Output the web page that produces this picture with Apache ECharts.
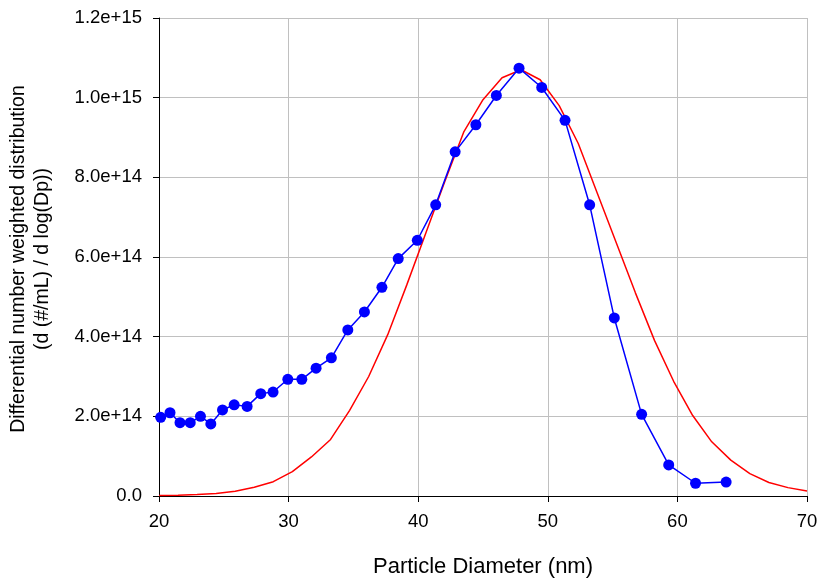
<!DOCTYPE html>
<html>
<head>
<meta charset="utf-8">
<script src="https://cdn.jsdelivr.net/npm/echarts@6/dist/echarts.min.js"></script>
<style>html,body{margin:0;padding:0;background:#fff}#c{width:819px;height:579px}</style>
</head>
<body>
<div id="c"></div>
<script>
// Measured data (blue markers)
const measuredX = [20.13, 20.85, 21.62, 22.41, 23.2, 24.0, 24.9, 25.8, 26.8, 27.85, 28.8, 29.94, 31.02, 32.12, 33.3, 34.57, 35.85, 37.2, 38.46, 39.93, 41.35, 42.85, 44.45, 46.03, 47.78, 49.53, 51.33, 53.23, 55.13, 57.24, 59.33, 61.4, 63.76];
const measuredY = [1.975e14, 2.09e14, 1.84e14, 1.84e14, 2.0e14, 1.81e14, 2.16e14, 2.29e14, 2.25e14, 2.57e14, 2.61e14, 2.93e14, 2.93e14, 3.21e14, 3.47e14, 4.17e14, 4.62e14, 5.24e14, 5.96e14, 6.42e14, 7.31e14, 8.64e14, 9.32e14, 1.0055e15, 1.074e15, 1.0256e15, 9.43e14, 7.31e14, 4.47e14, 2.05e14, 7.8e13, 3.2e13, 3.5e13];
// Fitted curve (red line)
const fitX = [20.0, 21.47, 22.94, 24.41, 25.88, 27.35, 28.82, 30.29, 31.76, 33.24, 34.71, 36.18, 37.65, 39.12, 40.59, 42.06, 43.53, 45.0, 46.47, 47.94, 49.41, 50.88, 52.35, 53.82, 55.29, 56.76, 58.24, 59.71, 61.18, 62.65, 64.12, 65.59, 67.06, 68.53, 70.0];
const fitY = [1.0e12, 1.8e12, 3.5e12, 6.5e12, 1.2e13, 2.2e13, 3.6e13, 6.1e13, 9.8e13, 1.42e14, 2.15e14, 3.0e14, 4.05e14, 5.3e14, 6.6e14, 7.9e14, 9.15e14, 9.95e14, 1.05e15, 1.07e15, 1.045e15, 9.8e14, 8.85e14, 7.6e14, 6.35e14, 5.1e14, 3.9e14, 2.88e14, 2.02e14, 1.36e14, 9.0e13, 5.6e13, 3.4e13, 2.1e13, 1.25e13];
const xTitle = 'Particle Diameter (nm)';
const yTitle = 'Differential number weighted distribution\n(d (#/mL) / d log(Dp))';

function fmtY(v) {
  if (v === 0) return '0.0';
  const e = Math.floor(Math.log10(v) + 1e-9);
  const m = v / Math.pow(10, e);
  return m.toFixed(1) + 'e+' + e;
}

const chart = echarts.init(document.getElementById('c'), null, {renderer: 'canvas'});
const font = 'Liberation Sans, Arial, sans-serif';
chart.setOption({
  animation: false,
  backgroundColor: '#fff',
  grid: {left: 159, right: 12, top: 18, bottom: 83, containLabel: false, outerBoundsMode: 'none'},
  graphic: [{
    type: 'text',
    x: 31, y: 259,
    rotation: Math.PI / 2,
    silent: true,
    style: {
      text: yTitle,
      fontFamily: font, fontSize: 19.5, lineHeight: 24,
      fill: '#000', align: 'center', verticalAlign: 'middle'
    }
  }],
  xAxis: {
    type: 'value', min: 20, max: 70, interval: 10,
    name: xTitle, nameLocation: 'middle', nameGap: 60,
    nameTextStyle: {fontFamily: font, fontSize: 22, color: '#000'},
    axisLine: {show: true, onZero: false, lineStyle: {color: '#000', width: 1}},
    axisTick: {show: true, inside: false, length: 6, lineStyle: {color: '#000'}},
    axisLabel: {fontFamily: font, fontSize: 18.5, color: '#000', margin: 16},
    splitLine: {show: true, lineStyle: {color: '#c0c0c0', width: 1}}
  },
  yAxis: {
    type: 'value', min: 0, max: 1.2e15, interval: 2e14,
    axisLine: {show: true, onZero: false, lineStyle: {color: '#000', width: 1}},
    axisTick: {show: true, inside: false, length: 6, lineStyle: {color: '#000'}},
    axisLabel: {fontFamily: font, fontSize: 18.5, color: '#000', margin: 17, formatter: fmtY},
    splitLine: {show: true, lineStyle: {color: '#c0c0c0', width: 1}}
  },
  series: [
    {
      type: 'line', name: 'fit',
      data: fitX.map((x, i) => [x, fitY[i]]),
      showSymbol: false, symbol: 'none',
      lineStyle: {color: '#ff0000', width: 1.5},
      z: 2
    },
    {
      type: 'line', name: 'measured',
      data: measuredX.map((x, i) => [x, measuredY[i]]),
      symbol: 'circle', symbolSize: 11,
      itemStyle: {color: '#0000ff'},
      lineStyle: {color: '#0000ff', width: 1.5},
      z: 3
    }
  ]
});
</script>
</body>
</html>
